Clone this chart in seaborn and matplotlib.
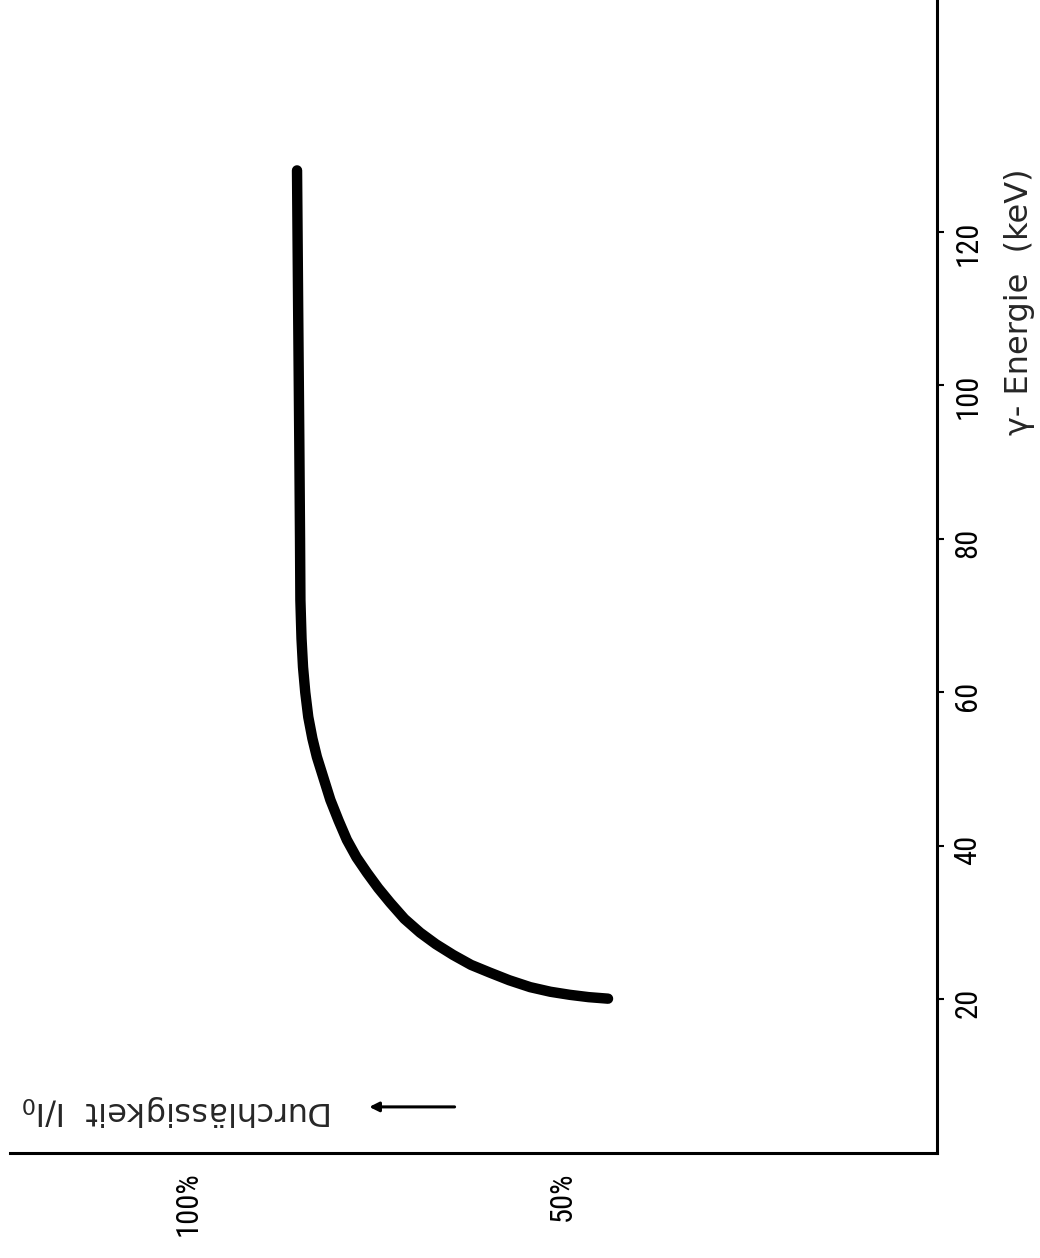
import matplotlib
matplotlib.use("Agg")
import matplotlib.pyplot as plt
import seaborn as sns
import pandas as pd

# transmission curve (energy in keV, transmission in %)
energy_kev = [20.1, 20.3, 20.6, 21.0, 21.6, 22.5, 23.5, 24.5, 25.8, 27.2,
              28.7, 30.5, 32.6, 34.5, 36.5, 38.5, 40.8, 43.3, 46.0, 48.8,
              51.6, 54.0, 56.8, 60.0, 63.3, 67.0, 72.0, 80.0, 93.0, 110.0,
              128.0]
transmission_pct = [43.9, 46.5, 49.0, 51.6, 54.3, 57.1, 59.7, 62.2, 64.6, 66.9,
                    69.0, 71.1, 73.0, 74.6, 76.1, 77.5, 78.8, 79.9, 81.0, 81.9,
                    82.8, 83.4, 83.95, 84.35, 84.65, 84.85, 85.0, 85.05, 85.15, 85.3,
                    85.45]

energy_ticks = [20, 40, 60, 80, 100, 120]
trans_ticks = [0, 20, 40, 60, 80, 100]
trans_ticklabels = ['', '', '', '', '', '100%']
trans_minor = [50]
trans_minor_labels = ['50%']

df = pd.DataFrame({'E': energy_kev, 'T': transmission_pct})

sns.set_style("white")
narrow = ['Roboto Condensed', 'Liberation Sans Narrow', 'Liberation Sans', 'DejaVu Sans']
plt.rcParams['font.family'] = narrow

fig = plt.figure(figsize=(10.4, 12.58), dpi=100)
ax = fig.add_axes([0.0096, 0.0835, 0.891, 0.9165])

sns.lineplot(data=df, x='T', y='E', ax=ax, color='black', linewidth=7.5,
             sort=False, estimator=None, solid_capstyle='round')

ax.set_xlim(123.8, 0)
ax.set_ylim(0, 150.2)

for s in ['left', 'top']:
    ax.spines[s].set_visible(False)
for s in ['right', 'bottom']:
    ax.spines[s].set_linewidth(2.2)
    ax.spines[s].set_color('black')

# energy axis on the right
ax.yaxis.tick_right()
ax.set_yticks(energy_ticks)
ax.set_yticklabels([str(v) for v in energy_ticks])
ax.tick_params(axis='y', direction='out', length=5, width=1.5, pad=7,
               labelsize=22, labelrotation=90, colors='black')

# transmission axis at the bottom
ax.set_xticks(trans_ticks)
ax.set_xticklabels(trans_ticklabels)
ax.set_xticks(trans_minor, minor=True)
ax.set_xticklabels(trans_minor_labels, minor=True)
ax.tick_params(axis='x', which='major', direction='out', length=5, width=1.5,
               pad=8.5, labelsize=22, labelrotation=90, colors='black')
ax.tick_params(axis='x', which='minor', length=0, pad=13.5,
               labelsize=22, labelrotation=90, colors='black')

ax.set_xlabel('')
ax.yaxis.set_label_position('right')
ax.set_ylabel('γ- Energie  (keV)', fontsize=23, family=['DejaVu Sans'],
              rotation=90, va='center', ha='center')
ax.yaxis.set_label_coords(1.0895, 0.738)

# legend-like label, upside down as in the original
ax.text(80.6, 5.5, 'Durchlässigkeit  I/I$_0$', fontsize=23, family=['DejaVu Sans'],
        rotation=180, ha='right', va='center')
ax.annotate('', xy=(75.8, 6.0), xytext=(64.4, 6.0),
            arrowprops=dict(arrowstyle='-|>', lw=2.2, color='black',
                            mutation_scale=14, shrinkA=0, shrinkB=0))

ax.grid(False)
fig.savefig('out.png', dpi=100)
